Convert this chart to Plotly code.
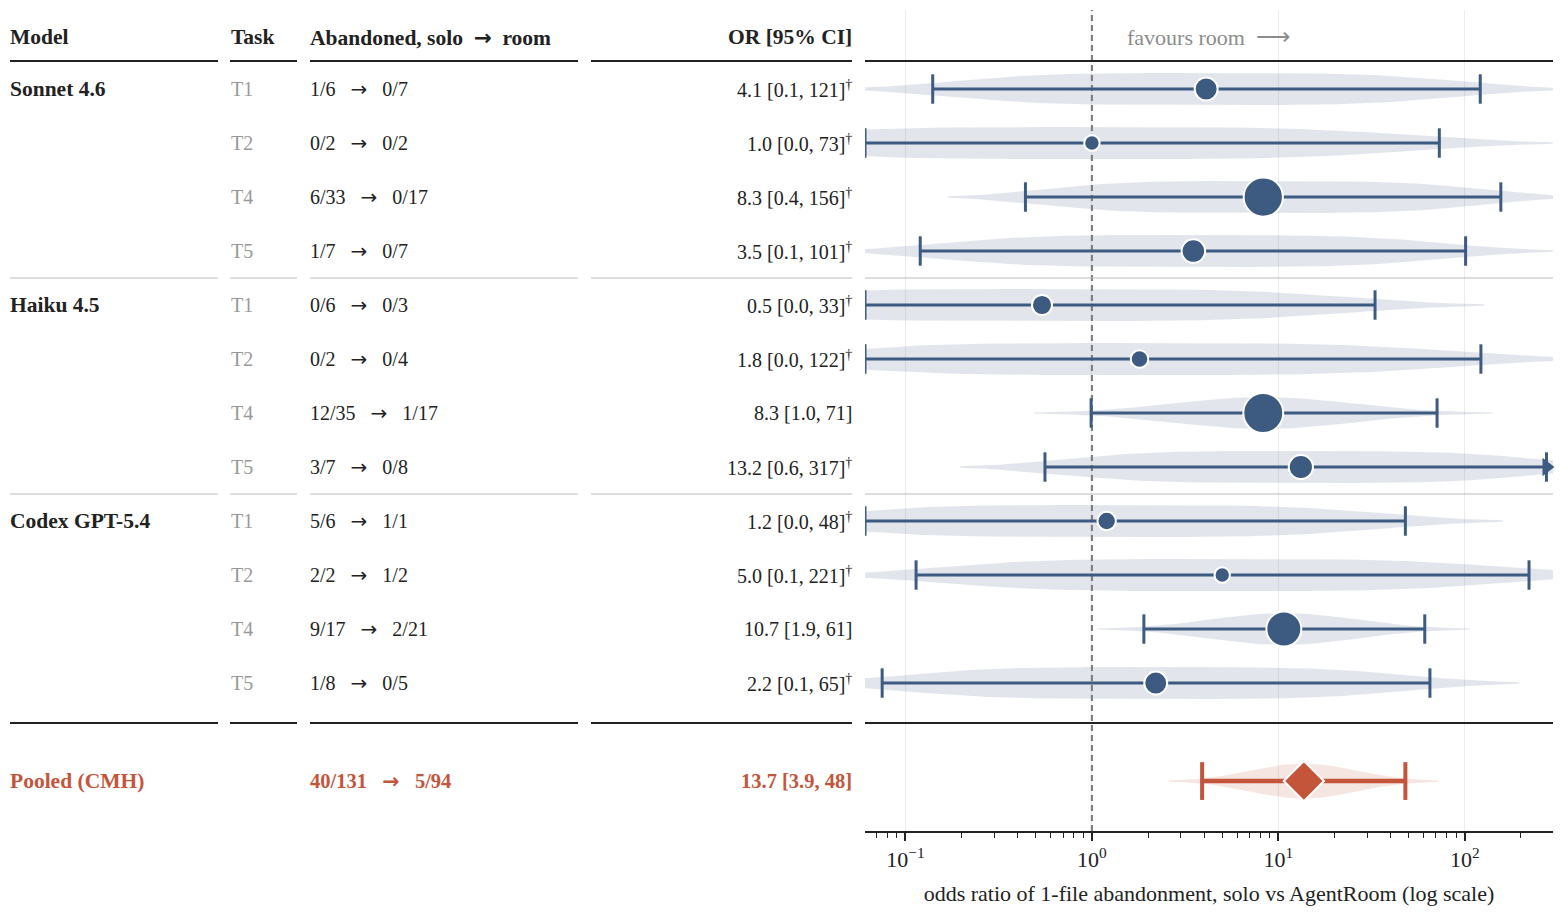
import numpy as np
import plotly.graph_objects as go

FONT = "Liberation Serif, Times New Roman, serif"
INK = "#222222"
GREY = "#999999"
BLUE = "#3d5a80"
RED = "#c4553b"

models = ["Sonnet 4.6", "Haiku 4.5", "Codex GPT-5.4"]
tasks = ["T1", "T2", "T4", "T5"]

# abandoned / runs, solo and room, one entry per (model, task)
solo_ab = [1, 0, 6, 1, 0, 0, 12, 3, 5, 2, 9, 1]
solo_n = [6, 2, 33, 7, 6, 2, 35, 7, 6, 2, 17, 8]
room_ab = [0, 0, 0, 0, 0, 0, 1, 0, 1, 1, 2, 0]
room_n = [7, 2, 17, 7, 3, 4, 17, 8, 1, 2, 21, 5]

odds = [4.1, 1.0, 8.3, 3.5, 0.54, 1.8, 8.3, 13.2, 1.2, 5.0, 10.7, 2.2]
ci_lo = [0.14, 0.0137, 0.44, 0.12, 0.0088, 0.027, 0.99, 0.56, 0.03, 0.114, 1.9, 0.075]
ci_hi = [121, 73, 156, 101, 33, 122, 71, 317, 48, 221, 61, 65]

pooled_or = 13.7
pooled_lo = 3.9
pooled_hi = 48

xtick_vals = [0.1, 1, 10, 100]
xtick_text = ["10<sup>\u22121</sup>", "10<sup>0</sup>", "10<sup>1</sup>", "10<sup>2</sup>"]

X_RANGE = [-1.217, 2.473]          # log10 of the visible odds-ratio range
XMIN, XMAX = 10 ** X_RANGE[0], 10 ** X_RANGE[1]
Y_RANGE = [13.74, -1.463]
W, H = 1564, 920
PLOT_W = 1553
TABLE_W = 865                      # x2 axis units == pixels of the table area

rows = list(range(len(odds)))
Y_HEAD, Y_HEADLINE, Y_BOTTOM, Y_POOL = -0.963, -0.52, 11.74, 12.815
SEGMENTS = [(10, 218), (230, 297), (310, 578), (591, 852)]
COL_MODEL, COL_TASK, COL_COUNT, COL_OR = 8, 229, 308, 854

zero_cell = [min(a, n - a, c, m - c) == 0 for a, n, c, m in zip(solo_ab, solo_n, room_ab, room_n)]


def violin(center, lo, hi, y, half, flat, color):
    m = np.log10(center)
    se = (np.log10(hi) - np.log10(lo)) / 3.92
    t = np.linspace(-2.6, 2.6, 161)
    if flat:
        w = np.exp(-0.5 * (np.abs(t) / 1.65) ** 4)
    else:
        w = np.exp(-0.5 * t ** 2)
    xs = 10 ** (m + t * se)
    return go.Scatter(x=np.concatenate([xs, xs[::-1]]),
                      y=np.concatenate([y - half * w, (y + half * w)[::-1]]),
                      fill="toself", fillcolor=color, mode="lines", line=dict(width=0),
                      hoverinfo="skip", showlegend=False)


fig = go.Figure()

for i in rows:
    fig.add_trace(violin(odds[i], ci_lo[i], ci_hi[i], i, 0.296, zero_cell[i], "rgba(61,90,128,0.15)"))
fig.add_trace(violin(pooled_or, pooled_lo, pooled_hi, Y_POOL, 0.324, False, "rgba(196,85,59,0.15)"))

# reference line at OR = 1, under the estimates
fig.add_trace(go.Scatter(x=[1, 1], y=Y_RANGE, mode="lines",
                         line=dict(color="#808080", width=2.2, dash="6px,4px"),
                         hoverinfo="skip", showlegend=False))

lo_draw = [max(v, XMIN) for v in ci_lo]
hi_draw = [v if v < XMAX else XMAX / 10 ** 0.035 for v in ci_hi]

seg_x, seg_y = [], []
for i in rows:
    seg_x += [lo_draw[i], hi_draw[i], None]
    seg_y += [i, i, None]
fig.add_trace(go.Scatter(x=seg_x, y=seg_y, mode="lines", line=dict(color=BLUE, width=3),
                         hoverinfo="skip", showlegend=False))
fig.add_trace(go.Scatter(x=lo_draw + hi_draw, y=rows + rows, mode="markers",
                         marker=dict(symbol="line-ns", size=21, line=dict(color=BLUE, width=3)),
                         hoverinfo="skip", showlegend=False))

over = [i for i in rows if ci_hi[i] >= XMAX]
fig.add_trace(go.Scatter(x=[hi_draw[i] for i in over], y=over, mode="markers", cliponaxis=False,
                         marker=dict(symbol="triangle-right", size=16, color=BLUE),
                         hoverinfo="skip", showlegend=False))

sizes = [6 + 4.7 * np.sqrt(n + m) for n, m in zip(solo_n, room_n)]
fig.add_trace(go.Scatter(x=odds, y=rows, mode="markers",
                         marker=dict(size=sizes, color=BLUE, opacity=1, line=dict(color="white", width=2)),
                         hovertemplate="OR %{x}<extra></extra>", showlegend=False))

fig.add_trace(go.Scatter(x=[pooled_lo, pooled_hi], y=[Y_POOL, Y_POOL], mode="lines",
                         line=dict(color=RED, width=4.5), hoverinfo="skip", showlegend=False))
fig.add_trace(go.Scatter(x=[pooled_lo, pooled_hi], y=[Y_POOL, Y_POOL], mode="markers",
                         marker=dict(symbol="line-ns", size=27, line=dict(color=RED, width=4)),
                         hoverinfo="skip", showlegend=False))
fig.add_trace(go.Scatter(x=[pooled_or], y=[Y_POOL], mode="markers",
                         marker=dict(symbol="diamond", size=31, color=RED, opacity=1,
                                     line=dict(color="white", width=2)),
                         hovertemplate="pooled OR %{x}<extra></extra>", showlegend=False))


def txt(x, y, s, color=INK, bold=False, anchor="left", ref="x2", size=20):
    if bold:
        s = "<b>" + s + "</b>"
    return dict(x=x, y=y, xref=ref, yref="y", text=s, showarrow=False, xanchor=anchor,
                yanchor="middle", font=dict(family=FONT, size=size, color=color))


ARROW = "<span style='font-family:DejaVu Sans'>\u2192</span>"
NB = "\u00a0"
gap = NB * 3 + ARROW + NB * 3
HEAD = 21.5
ann = [
    txt(COL_MODEL, Y_HEAD, "Model", bold=True, size=HEAD),
    txt(COL_TASK, Y_HEAD, "Task", bold=True, size=HEAD),
    txt(COL_COUNT, Y_HEAD, "Abandoned, solo" + NB * 2 + ARROW + NB * 2 + "room", bold=True, size=HEAD),
    txt(COL_OR, Y_HEAD, "OR [95% CI]", bold=True, anchor="right", size=HEAD),
    dict(x=1125 / PLOT_W, y=Y_HEAD, xref="paper", yref="y",
         text="favours room" + NB * 2 + "<span style='font-size:24px'>\u27f6</span>",
         showarrow=False, xanchor="left", yanchor="middle", font=dict(family=FONT, size=22, color="#8c8c8c")),
]
for g, name in enumerate(models):
    ann.append(txt(COL_MODEL, g * 4, name, bold=True, size=HEAD))
for i in rows:
    ann.append(txt(COL_TASK, i, tasks[i % 4], color=GREY))
    ann.append(txt(COL_COUNT, i, f"{solo_ab[i]}/{solo_n[i]}{gap}{room_ab[i]}/{room_n[i]}"))
    label = f"{odds[i]:.1f} [{ci_lo[i]:.1f}, {ci_hi[i]:.0f}]"
    if zero_cell[i]:
        label += "<sup>\u2020</sup>"
    ann.append(txt(COL_OR, i, label, anchor="right"))
ann.append(txt(COL_MODEL, Y_POOL, "Pooled (CMH)", color=RED, bold=True, size=HEAD))
ann.append(txt(COL_COUNT, Y_POOL, f"{sum(solo_ab)}/{sum(solo_n)}{gap}{sum(room_ab)}/{sum(room_n)}",
               color=RED, bold=True, size=20.5))
ann.append(txt(COL_OR, Y_POOL, f"{pooled_or:.1f} [{pooled_lo:.1f}, {pooled_hi:.0f}]", color=RED,
               bold=True, anchor="right", size=20.5))

shapes = []
for y, color, width in [(Y_HEADLINE, INK, 2), (3.5, "#bbbbbb", 1), (7.5, "#bbbbbb", 1), (Y_BOTTOM, INK, 2)]:
    for x0, x1 in SEGMENTS:
        shapes.append(dict(type="line", xref="x2", yref="y", x0=x0, x1=x1, y0=y, y1=y,
                           line=dict(color=color, width=width)))
    shapes.append(dict(type="line", xref="x domain", yref="y", x0=0, x1=1, y0=y, y1=y,
                       line=dict(color=color, width=width)))

minor_vals = [m * 10 ** e for e in range(-2, 3) for m in range(2, 10) if XMIN < m * 10 ** e < XMAX]

fig.update_layout(
    width=W, height=H,
    margin=dict(l=0, r=W - PLOT_W, t=10, b=89),
    paper_bgcolor="white", plot_bgcolor="white",
    font=dict(family=FONT, size=20, color=INK),
    showlegend=False,
    annotations=ann, shapes=shapes,
    xaxis=dict(type="log", range=X_RANGE, domain=[TABLE_W / PLOT_W, 1], anchor="y",
               showline=True, linecolor=INK, linewidth=2, mirror=False,
               ticks="outside", ticklen=8, tickwidth=1.5, tickcolor=INK,
               tickmode="array", tickvals=xtick_vals, ticktext=xtick_text,
               tickfont=dict(family=FONT, size=22, color=INK),
               showgrid=True, gridcolor="#ececec", gridwidth=1, zeroline=False,
               minor=dict(tickmode="array", tickvals=minor_vals, ticks="outside", ticklen=5,
                          tickwidth=1, tickcolor=INK, showgrid=False),
               title=dict(text="odds ratio of 1-file abandonment, solo vs AgentRoom (log scale)",
                          font=dict(family=FONT, size=22, color=INK), standoff=14)),
    xaxis2=dict(range=[0, TABLE_W], domain=[0, TABLE_W / PLOT_W], anchor="y", visible=False),
    yaxis=dict(range=Y_RANGE, visible=False, fixedrange=True),
)

# the page's default body margin would push the figure 8px off the window
fig.write_html("out.html", config={"displayModeBar": False},
               post_script="document.body.style.margin='0px';")
